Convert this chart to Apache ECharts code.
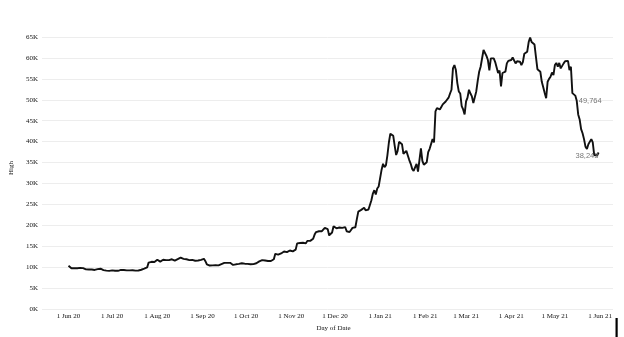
<!DOCTYPE html>
<html><head><meta charset="utf-8">
<script src="https://cdn.jsdelivr.net/npm/echarts@6/dist/echarts.min.js"></script>
<style>html,body{margin:0;padding:0;background:#fff}#c{width:624px;height:337px}</style>
</head><body><div id="c"></div>
<script>
// Daily "High" values, one array per month
const months = ['2020-06','2020-07','2020-08','2020-09','2020-10','2020-11','2020-12','2021-01','2021-02','2021-03','2021-04','2021-05'];
const jun20 = [10350,10000,9750,9800,9780,9750,9750,9800,9850,9900,9800,9600,9500,9450,9450,9500,9450,9380,9350,9400,9550,9750,9650,9550,9300,9250,9200,9150,9130,9180];
const jul20 = [9250,9200,9150,9180,9150,9300,9350,9400,9350,9300,9250,9300,9250,9250,9280,9200,9200,9200,9230,9230,9400,9500,9650,9700,9950,11100,11200,11300,11350,11250,11450];
const aug20 = [11800,11500,11350,11450,11800,11900,11700,11650,11700,12000,11900,11600,11600,11800,11950,11950,12300,12350,12000,11900,11900,11650,11700,11750,11750,11600,11550,11500,11600,11700,11750];
const sep20 = [12050,12000,11450,10700,10600,10400,10400,10450,10350,10500,10400,10450,10550,10750,11000,11050,11000,11050,11150,11050,10950,10550,10550,10700,10750,10800,10900,10950,10850,10850];
const oct20 = [10900,10800,10700,10700,10800,10750,10700,10950,11100,11400,11450,11700,11550,11600,11550,11500,11450,11500,11800,11900,13200,13200,13000,13200,13300,13250,13750,13800,13600,13650,14000];
const nov20 = [13900,13800,14000,14200,15700,16000,15800,15700,15850,15500,15700,16300,16500,16300,16200,16800,17800,18400,18200,18600,18700,18600,18800,19400,19450,19100,17600,17800,18300,19800];
const dec20 = [19900,19300,19550,19500,19200,19400,19400,19600,18600,18500,18400,18900,19400,19500,19550,21500,23300,23300,23700,24000,24200,23600,24000,23800,24200,26000,27600,28400,27400,28800,29300];
const jan21 = [29600,33300,34700,33900,34400,36800,39800,41900,41500,41400,39000,36800,37800,39950,39700,39400,37100,37300,37800,36700,35600,34700,33500,33000,33100,34700,32850,32700,38400,35400,34500];
const feb21 = [34500,35100,37500,38300,38650,40600,39800,47250,48000,48050,47700,48300,48900,48500,49600,49400,50500,51500,52400,57500,58300,57100,54000,52000,51500,48500,47700,46500];
const mar21 = [49600,50500,52400,51500,50800,49250,49600,52000,54500,56700,57900,58100,61900,61500,60500,59500,57000,59900,59600,59900,59000,58700,56400,57000,53200,56400,56600,56700,58700,59300,59600];
const apr21 = [59500,60100,59700,58700,59200,59500,59100,58300,59000,61000,60900,61500,63800,64900,63800,63500,63200,60200,57300,56900,56700,54300,53000,51600,50400,54300,55000,55500,56500,55900];
const may21 = [58300,58800,57900,58800,57500,58100,58700,59200,59500,59300,57100,57900,51600,51200,51000,49764,46500,45300,43000,42000,40600,38800,38243,39400,39800,40600,39800,36800,36500,36700,37400];
const monthValues = [jun20,jul20,aug20,sep20,oct20,nov20,dec20,jan21,feb21,mar21,apr21,may21];
const labelledDates = ['2021-05-16','2021-05-23'];

const seriesData = [];
months.forEach((m, i) => monthValues[i].forEach((v, j) => seriesData.push([m + '-' + String(j + 1).padStart(2, '0'), v])));
const lookup = d => seriesData.find(p => p[0] === d)[1];

const DAY = 864e5;
const xMin = new Date(2020, 5, 1).getTime() - 18.2 * DAY;
const xMax = new Date(2021, 5, 1).getTime() + 8.9 * DAY;

const serif = 'Liberation Serif';
const chart = echarts.init(document.getElementById('c'), null, {renderer: 'canvas'});
chart.setOption({
  animation: false,
  backgroundColor: '#fff',
  grid: {left: 42, right: 11, top: 37, bottom: 25},
  xAxis: {
    type: 'time', min: xMin, max: xMax,
    minInterval: 28 * DAY, maxInterval: 31 * DAY,
    name: 'Day of Date', nameLocation: 'middle', nameGap: 13,
    nameTextStyle: {fontFamily: serif, fontSize: 7, color: '#111', padding: [0, 0, 0, 12]},
    axisLine: {show: false}, axisTick: {show: false}, splitLine: {show: false},
    axisLabel: {formatter: '{d} {MMM} {yy}', fontFamily: serif, fontSize: 7, color: '#111', margin: 4, showMinLabel: false, showMaxLabel: false}
  },
  yAxis: {
    type: 'value', min: 0, max: 65000, interval: 5000,
    name: 'High', nameLocation: 'middle', nameGap: 20,
    nameTextStyle: {fontFamily: serif, fontSize: 7, color: '#111', padding: [0, 0, 0, 10]},
    axisLine: {show: false}, axisTick: {show: false},
    splitLine: {lineStyle: {color: '#ededed', width: 1}},
    axisLabel: {formatter: v => (v / 1000) + 'K', fontFamily: serif, fontSize: 7, color: '#111', margin: 4}
  },
  series: [{
    type: 'line', data: seriesData, showSymbol: false, smooth: false,
    lineStyle: {color: '#111', width: 1.9},
    markPoint: {
      symbol: 'circle', symbolSize: 0, silent: true,
      label: {show: true, fontFamily: 'Liberation Sans', fontSize: 7.5, color: '#777', formatter: p => p.value.toLocaleString('en-US')},
      data: labelledDates.map((d, i) => ({
        coord: [d, lookup(d)], value: lookup(d),
        label: i === 0 ? {position: 'right', distance: 2} : {position: 'bottom', distance: 3}
      }))
    }
  }],
  graphic: [{type: 'rect', shape: {x: 615.5, y: 318, width: 2.2, height: 19}, style: {fill: '#000'}}]
});
</script></body></html>
